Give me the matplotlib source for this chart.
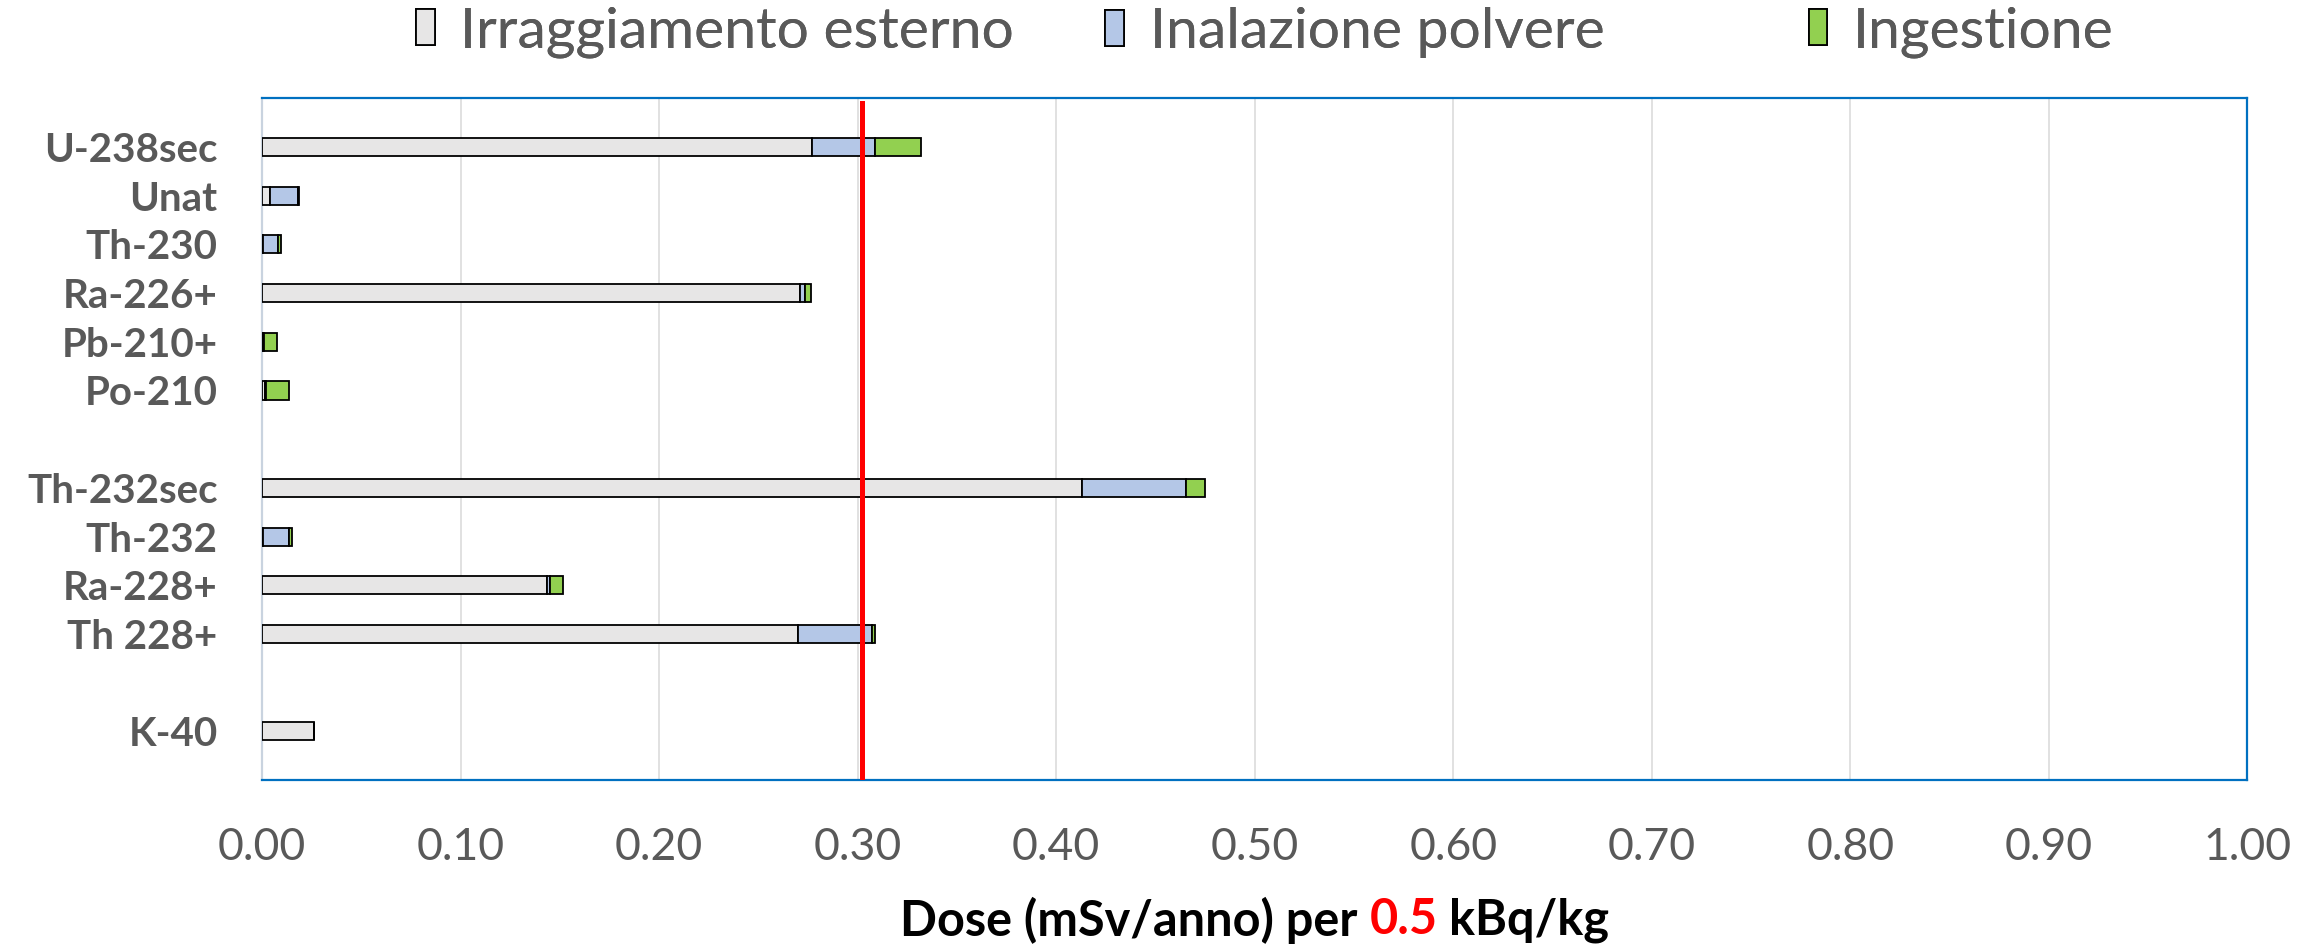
import matplotlib
matplotlib.use("Agg")
import matplotlib.pyplot as plt
import numpy as np

# ── dati (mSv/anno per 0.5 kBq/kg) ──────────────────────
# '' = riga vuota di separazione tra le catene
NUCLIDES = ['U-238sec', 'Unat', 'Th-230', 'Ra-226+', 'Pb-210+', 'Po-210', '',
            'Th-232sec', 'Th-232', 'Ra-228+', 'Th 228+', '', 'K-40']
ESTERNO = [0.277, 0.004, 0.0005, 0.271, 0.0005, 0.0015, None,
           0.413, 0.0005, 0.1435, 0.270, None, 0.0263]
INALAZIONE = [0.0317, 0.0143, 0.0075, 0.0025, 0.0005, 0.0007, None,
              0.0524, 0.013, 0.0015, 0.037, None, 0.0]
INGESTIONE = [0.0231, 0.0003, 0.0016, 0.0029, 0.0067, 0.0113, None,
              0.0095, 0.0015, 0.0065, 0.002, None, 0.0]
SERIES = ['Irraggiamento esterno', 'Inalazione polvere', 'Ingestione']
COLORS = ['#E7E6E6', '#B4C7E7', '#92D050']
LIMITE = 0.302
XTICKS = [0.0, 0.1, 0.2, 0.3, 0.4, 0.5, 0.6, 0.7, 0.8, 0.9, 1.0]

GREY = '#595959'
plt.rcParams['font.family'] = ['Lato', 'DejaVu Sans']

fig = plt.figure(figsize=(22.98, 9.46), dpi=100, facecolor='white')
ax = fig.add_axes([0.114, 0.1755, 0.864, 0.7205])

pos = np.arange(len(NUCLIDES))
keep = [i for i, v in enumerate(ESTERNO) if v is not None]
y = pos[keep]
est = np.array([ESTERNO[i] for i in keep])
ina = np.array([INALAZIONE[i] for i in keep])
ing = np.array([INGESTIONE[i] for i in keep])

kw = dict(height=0.37, edgecolor='black', linewidth=1.3, zorder=3)
b1 = ax.barh(y, est, color=COLORS[0], label=SERIES[0], **kw)
b2 = ax.barh(y, ina, left=est, color=COLORS[1], label=SERIES[1], **kw)
b3 = ax.barh(y, ing, left=est + ina, color=COLORS[2], label=SERIES[2], **kw)

ax.axvline(LIMITE, ymax=0.993, color='red', linewidth=3.6, zorder=4)

ax.set_xlim(0, 1.0)
ax.set_ylim(len(NUCLIDES), -1)
ax.set_xticks(XTICKS)
ax.set_xticklabels([f'{v:.2f}' for v in XTICKS], fontsize=32, color=GREY)
ax.set_yticks(pos)
ax.set_yticklabels(NUCLIDES, fontsize=29, fontweight='bold', color=GREY)
ax.tick_params(axis='x', length=0, pad=34)
ax.tick_params(axis='y', length=0, pad=32)
ax.grid(axis='x', color='#D9D9D9', linewidth=1.1, zorder=0)
ax.set_axisbelow(True)

for side in ['top', 'right', 'bottom']:
    ax.spines[side].set_color('#0070C0')
    ax.spines[side].set_linewidth(1.6)
ax.spines['left'].set_color('#C9D3DF')
ax.spines['left'].set_linewidth(1.6)

# legenda: voci a passo costante come in Excel
for h, lab, xl in zip([b1, b2, b3], SERIES, [0.181, 0.481, 0.787]):
    leg = fig.legend([h], [lab], loc='center left', bbox_to_anchor=(xl, 0.966),
                     frameon=False, fontsize=41, labelcolor=GREY,
                     handlelength=0.33, handleheight=0.6, handletextpad=0.45,
                     borderpad=0, borderaxespad=0)
    fig.add_artist(leg)

# etichetta asse x con "0.5" in rosso
full = 'Dose (mSv/anno) per 0.5 kBq/kg'
parts = [('Dose (mSv/anno) per', 'black', 'Dose (mSv/anno) per'),
         ('0.5', 'red', 'Dose (mSv/anno) per 0.5'),
         ('kBq/kg', 'black', full)]
ycen = 0.0275
tkw = dict(fontsize=35, fontweight='bold', va='center', ha='left')
renderer = fig.canvas.get_renderer()

def width_of(s):
    t = fig.text(0, -1, s, **tkw)
    w = t.get_window_extent(renderer).width
    t.remove()
    return w

figw = fig.get_figwidth() * fig.dpi
bb = ax.get_position()
xc = (bb.x0 + bb.x1) / 2 * figw
left = xc - width_of(full) / 2
for txt, col, upto in parts:
    x0 = left + width_of(upto) - width_of(txt)
    fig.text(x0 / figw, ycen, txt, color=col, **tkw)

fig.savefig('out.png', dpi=100, facecolor='white')
